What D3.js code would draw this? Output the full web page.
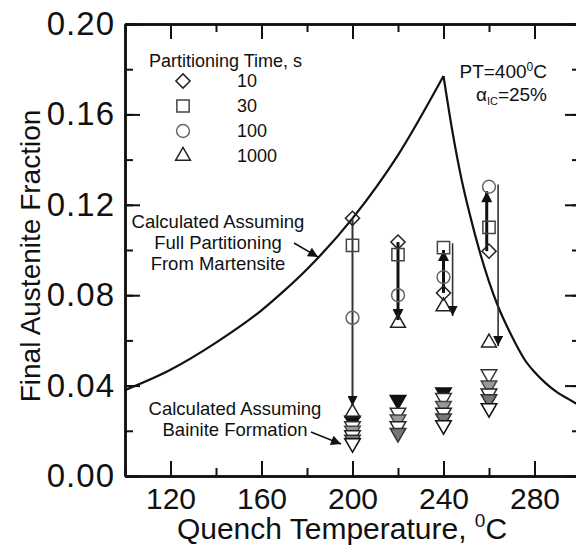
<!DOCTYPE html>
<html>
<head>
<meta charset="UTF-8">
<script src="https://cdnjs.cloudflare.com/ajax/libs/d3/7.8.5/d3.min.js"></script>
<style>
  body { margin: 0; background: #fff; }
  svg { display: block; font-family: "Liberation Sans", Arial, sans-serif; }
  .axis path, .axis line { stroke: #111; }
  .axis path { stroke-width: 2.5px; }
  .axis line { stroke-width: 2px; }
  .axis text { fill: #111; }
  .xaxis text { font-size: 30px; }
  .yaxis text { font-size: 33px; letter-spacing: 1px; }
</style>
</head>
<body>
<svg width="576" height="549"></svg>
<script>
// temperatures where samples were measured
const quenchTemps = [200, 220, 240, 260];

// final austenite fraction per partitioning time
const pt10 = [0.114, 0.1035, 0.081, 0.0995];
const pt30 = [0.102, 0.098, 0.101, 0.110];
const pt100 = [0.070, 0.080, 0.088, 0.128];
const pt1000 = [0.028, 0.0677, 0.075, 0.059];

// "bainite formation" calculated values (down triangles)
const bainA = [0.0245, 0.0336, 0.037, null];
const bainB = [0.022, 0.028, 0.0345, 0.045];
const bainC = [0.020, 0.025, 0.031, 0.040];
const bainD = [0.018, 0.022, 0.028, 0.0365];
const bainE = [0.016, 0.019, 0.0255, 0.034];
const bainF = [0.0145, null, 0.0225, 0.030];

// full partitioning curve
const curveLeftT = [100, 120, 140, 160, 170, 180, 200, 220, 240];
const curveLeftV = [0.038, 0.047, 0.059, 0.0733, 0.082, 0.0915, 0.114, 0.142, 0.177];
const curveRightT = [240, 244, 248, 252, 256, 260, 264, 268, 272, 276, 280, 285, 290, 295, 300];
const curveRightV = [0.177, 0.152, 0.131, 0.114, 0.099, 0.086, 0.075, 0.066, 0.058, 0.051, 0.046, 0.041, 0.037, 0.034, 0.031];

// trend arrows: x, from, to
const arrowT = [200, 220, 240, 244, 259, 264];
const arrowFrom = [0.114, 0.1035, 0.081, 0.103, 0.0995, 0.129];
const arrowTo = [0.031, 0.069, 0.100, 0.0708, 0.126, 0.0575];
const arrowThick = [false, true, true, false, true, false];

const legendLabels = ["10", "30", "100", "1000"];
const xMajor = [120, 160, 200, 240, 280];
const yMajor = [0, 0.04, 0.08, 0.12, 0.16, 0.20];

const svg = d3.select("svg");
const x = d3.scaleLinear().domain([100, 300]).range([125, 580]);
const y = d3.scaleLinear().domain([0, 0.2]).range([476, 24]);

const defs = svg.append("defs");
defs.append("marker").attr("id", "head")
  .attr("viewBox", "0 0 10 10").attr("refX", 10).attr("refY", 5)
  .attr("markerWidth", 12).attr("markerHeight", 11)
  .attr("markerUnits", "userSpaceOnUse").attr("orient", "auto")
  .append("path").attr("d", "M0,0L10,5L0,10z").attr("fill", "#111");
defs.append("marker").attr("id", "headthin")
  .attr("viewBox", "0 0 10 10").attr("refX", 10).attr("refY", 5)
  .attr("markerWidth", 13).attr("markerHeight", 10)
  .attr("markerUnits", "userSpaceOnUse").attr("orient", "auto")
  .append("path").attr("d", "M0,0L10,5L0,10z").attr("fill", "#111");

// axes: minor ticks first, then major with labels
function drawAxes() {
  const xMinor = d3.range(100, 301, 20);
  const yMinor = d3.range(0, 0.201, 0.02);
  svg.append("g").attr("class", "axis xaxis").attr("transform", "translate(0,476)")
    .call(d3.axisBottom(x).tickValues(xMinor).tickSizeInner(-8).tickSizeOuter(0).tickFormat(""));
  svg.append("g").attr("class", "axis xaxis").attr("transform", "translate(0,476)")
    .call(d3.axisBottom(x).tickValues(xMajor).tickSizeInner(-15).tickSizeOuter(0).tickPadding(12).tickFormat(d3.format("d")));
  svg.append("g").attr("class", "axis").attr("transform", "translate(0,24)")
    .call(d3.axisTop(x).tickValues(xMinor).tickSizeInner(-8).tickSizeOuter(0).tickFormat(""));
  svg.append("g").attr("class", "axis").attr("transform", "translate(0,24)")
    .call(d3.axisTop(x).tickValues(xMajor).tickSizeInner(-15).tickSizeOuter(0).tickFormat(""));
  svg.append("g").attr("class", "axis").attr("transform", "translate(125,0)")
    .call(d3.axisLeft(y).tickValues(yMinor).tickSizeInner(-8).tickSizeOuter(0).tickFormat(""));
  svg.append("g").attr("class", "axis yaxis").attr("transform", "translate(125,0)")
    .call(d3.axisLeft(y).tickValues(yMajor).tickSizeInner(-15).tickSizeOuter(0).tickPadding(10).tickFormat(d3.format(".2f")));
  svg.append("g").attr("class", "axis").attr("transform", "translate(580,0)")
    .call(d3.axisRight(y).tickValues(yMinor).tickSizeInner(-8).tickSizeOuter(0).tickFormat(""));
  svg.append("g").attr("class", "axis").attr("transform", "translate(580,0)")
    .call(d3.axisRight(y).tickValues(yMajor).tickSizeInner(-15).tickSizeOuter(0).tickFormat(""));
}
drawAxes();

// axis titles
svg.append("text").attr("transform", "translate(40,256) rotate(-90)")
  .attr("text-anchor", "middle").attr("font-size", 28).attr("fill", "#111")
  .text("Final Austenite Fraction");
const xt = svg.append("text").attr("x", 342).attr("y", 539)
  .attr("text-anchor", "middle").attr("font-size", 30).attr("fill", "#111");
xt.append("tspan").text("Quench Temperature, ");
xt.append("tspan").attr("font-size", 19).attr("dy", -12).text("0");
xt.append("tspan").attr("dy", 12).text("C");

// theoretical curve
const line = d3.line().x(d => x(d[0])).y(d => y(d[1])).curve(d3.curveMonotoneX);
[[curveLeftT, curveLeftV], [curveRightT, curveRightV]].forEach(([ts, vs]) => {
  svg.append("path").datum(ts.map((t, i) => [t, vs[i]]))
    .attr("d", line).attr("fill", "none").attr("stroke", "#111").attr("stroke-width", 2.2);
});

// arrows
arrowT.forEach((t, i) => {
  svg.append("line")
    .attr("x1", x(t)).attr("x2", x(t))
    .attr("y1", y(arrowFrom[i])).attr("y2", y(arrowTo[i]))
    .attr("stroke", arrowThick[i] ? "#111" : "#333")
    .attr("stroke-width", arrowThick[i] ? 3 : (i === 0 ? 2 : 1.6))
    .attr("marker-end", arrowThick[i] ? "url(#head)" : "url(#headthin)");
});

// down triangles for bainite calc
const bainSeries = [bainA, bainB, bainC, bainD, bainE, bainF];
const bainFill = ["#111", "#fff", "#999", "#fff", "#777", "#fff"];
const bainStroke = ["#111", "#333", "#444", "#222", "#333", "#111"];
const downTri = d3.symbol(d3.symbolTriangle, 105);
bainSeries.forEach((vals, k) => {
  vals.forEach((v, i) => {
    if (v == null) return;
    svg.append("path").attr("d", downTri())
      .attr("transform", `translate(${x(quenchTemps[i])},${y(v)}) rotate(180)`)
      .attr("fill", bainFill[k]).attr("stroke", bainStroke[k]).attr("stroke-width", 1.5);
  });
});

// experimental markers
const shapes = [
  { vals: pt10, sym: d3.symbol(d3.symbolSquare, 100), rot: 45, stroke: "#222" },
  { vals: pt30, sym: d3.symbol(d3.symbolSquare, 150), rot: 0, stroke: "#444" },
  { vals: pt100, sym: d3.symbol(d3.symbolCircle, 130), rot: 0, stroke: "#666" },
  { vals: pt1000, sym: d3.symbol(d3.symbolTriangle, 95), rot: 0, stroke: "#222" }
];
shapes.forEach(s => {
  s.vals.forEach((v, i) => {
    svg.append("path").attr("d", s.sym())
      .attr("transform", `translate(${x(quenchTemps[i])},${y(v)}) rotate(${s.rot})`)
      .attr("fill", "none").attr("stroke", s.stroke).attr("stroke-width", 1.5);
  });
});

// legend
svg.append("text").attr("x", 149).attr("y", 67).attr("font-size", 18).attr("fill", "#111")
  .text("Partitioning Time, s");
const legY = [81, 106, 131, 156];
shapes.forEach((s, i) => {
  svg.append("path").attr("d", s.sym())
    .attr("transform", `translate(183,${legY[i]}) rotate(${s.rot})`)
    .attr("fill", "none").attr("stroke", s.stroke).attr("stroke-width", 1.5);
  svg.append("text").attr("x", 237).attr("y", legY[i] + 6).attr("font-size", 18).attr("fill", "#111")
    .text(legendLabels[i]);
});

// conditions
const pt = svg.append("text").attr("x", 547).attr("y", 78).attr("text-anchor", "end")
  .attr("font-size", 19).attr("fill", "#111");
pt.append("tspan").text("PT=400");
pt.append("tspan").attr("font-size", 12).attr("dy", -7).text("0");
pt.append("tspan").attr("dy", 7).text("C");
const al = svg.append("text").attr("x", 547).attr("y", 101).attr("text-anchor", "end")
  .attr("font-size", 19).attr("fill", "#111");
al.append("tspan").text("α");
al.append("tspan").attr("font-size", 11).attr("dy", 4).text("IC");
al.append("tspan").attr("dy", -4).text("=25%");

// annotations
const ann1 = ["Calculated Assuming", "Full Partitioning", "From Martensite"];
ann1.forEach((t, i) => {
  svg.append("text").attr("x", 218).attr("y", 228 + i * 21).attr("text-anchor", "middle")
    .attr("font-size", 18.5).attr("fill", "#111").text(t);
});
svg.append("line").attr("x1", 294).attr("y1", 243).attr("x2", 318).attr("y2", 257)
  .attr("stroke", "#111").attr("stroke-width", 1.5).attr("marker-end", "url(#headthin)");

const ann2 = ["Calculated Assuming", "Bainite Formation"];
ann2.forEach((t, i) => {
  svg.append("text").attr("x", 235).attr("y", 415 + i * 21).attr("text-anchor", "middle")
    .attr("font-size", 18.5).attr("fill", "#111").text(t);
});
svg.append("line").attr("x1", 311).attr("y1", 432).attr("x2", 341).attr("y2", 444)
  .attr("stroke", "#111").attr("stroke-width", 1.5).attr("marker-end", "url(#headthin)");
</script>
</body>
</html>
